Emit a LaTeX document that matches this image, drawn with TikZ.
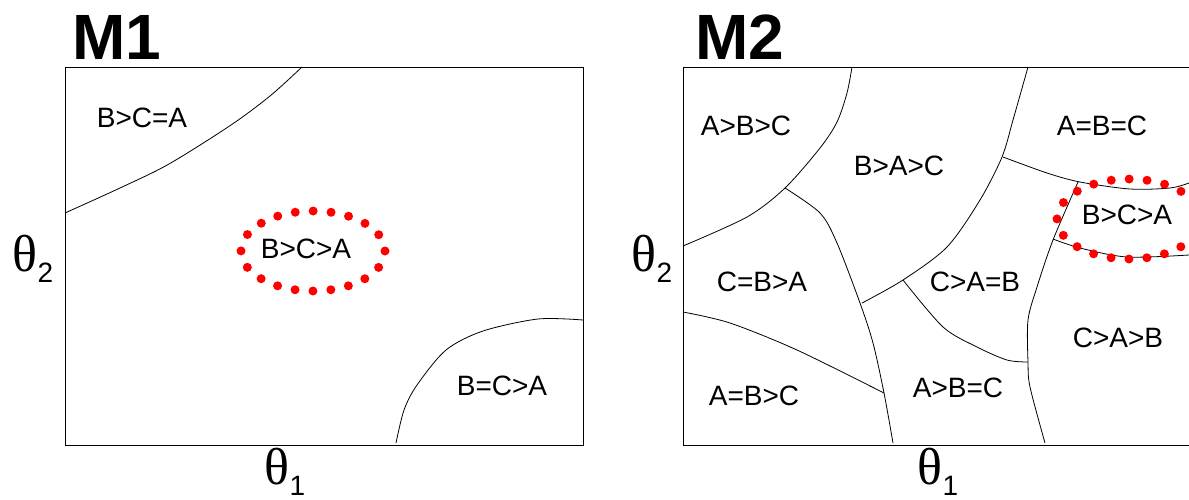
\documentclass[tikz,border=0pt]{standalone}
\usepackage{fontspec}
\setmainfont{Liberation Sans}
\newfontfamily\thetafont{Liberation Serif}
\usepackage{tikz}

\tikzset{
  region/.style={font=\fontsize{14}{16}\selectfont, inner sep=0pt},
  title/.style={font=\fontsize{32}{34}\selectfont\bfseries, inner sep=0pt},
  axislab/.style={inner sep=0pt},
  boundary/.style={line width=0.4pt},
  dotring/.style={red, line width=4.5pt, line cap=round, dash pattern=on 0pt off 8.98pt}
}
\newcommand{\thetalab}[1]{{\thetafont\fontsize{26}{28}\selectfont θ}\raisebox{-5.5pt}{\fontsize{14}{16}\selectfont #1}}

\begin{document}
\begin{tikzpicture}[x=0.5pt,y=-0.5pt]
\useasboundingbox (0,0) rectangle (1189,499);
% M1
\draw [line width=0.5pt] (65,67) rectangle (583,445);
\draw [boundary] plot[smooth] coordinates {(65,213) (120,188) (169,164) (231,125) (270,96) (302,67)};
\draw [boundary] plot[smooth] coordinates {(396,443) (404,410) (417,385) (446,350) (483,331) (538,319) (583,320)};
\draw [dotring] (313,251) ellipse [x radius=72, y radius=40];
\node [title] (mone) at (117,37) {M1};
\node [axislab] (thtwoA) at (33,259) {\thetalab{2}};
\node [axislab] (thoneA) at (285,472) {\thetalab{1}};
\node [region] (bcaA) at (142,118) {B>C=A};
\node [region] (bcgA) at (306,249) {B>C>A};
\node [region] (bceA) at (502,386) {B=C>A};
% M2
\draw [line width=0.5pt] (683,67) rectangle (1195,445);
\draw [boundary] plot[smooth] coordinates {(852,67) (847,93) (837,122) (820,148) (785,188) (747,217) (683,246)};
\draw [boundary] plot[smooth] coordinates {(785,188) (820,213) (837,243) (860,303) (873,343) (884,393) (893,443)};
\draw [boundary] plot[smooth] coordinates {(1028,67) (1013,120) (1002,157) (980,200) (947,247) (903,280) (862,303)};
\draw [boundary] plot[smooth] coordinates {(683,312) (730,323) (797,350) (884,393)};
\draw [boundary] plot[smooth] coordinates {(903,280) (943,327) (977,347) (1007,360) (1028,362)};
\draw [boundary] plot[smooth] coordinates {(1078,182) (1053,240) (1037,287) (1028,320) (1028,362) (1030,387) (1045,443)};
\draw [boundary] plot[smooth] coordinates {(1003,157) (1047,173) (1080,182) (1130,189) (1170,188) (1189,183)};
\draw [boundary] plot[smooth] coordinates {(1053,239) (1080,248) (1127,257) (1189,255)};
\draw [dotring] (1129,219) ellipse [x radius=72, y radius=40];
\node [title] (mtwo) at (740,37) {M2};
\node [axislab] (thtwoB) at (652,259) {\thetalab{2}};
\node [axislab] (thoneB) at (938,472) {\thetalab{1}};
\node [region] (abc) at (746,126) {A>B>C};
\node [region] (bac) at (899,166) {B>A>C};
\node [region] (aeq) at (1102,126) {A=B=C};
\node [region] (bcgB) at (1127,215) {B>C>A};
\node [region] (cba) at (762,282) {C=B>A};
\node [region] (cab) at (975,282) {C>A=B};
\node [region] (cagb) at (1118,338) {C>A>B};
\node [region] (abgc) at (754,396) {A=B>C};
\node [region] (abec) at (958,388) {A>B=C};
\end{tikzpicture}
\end{document}
